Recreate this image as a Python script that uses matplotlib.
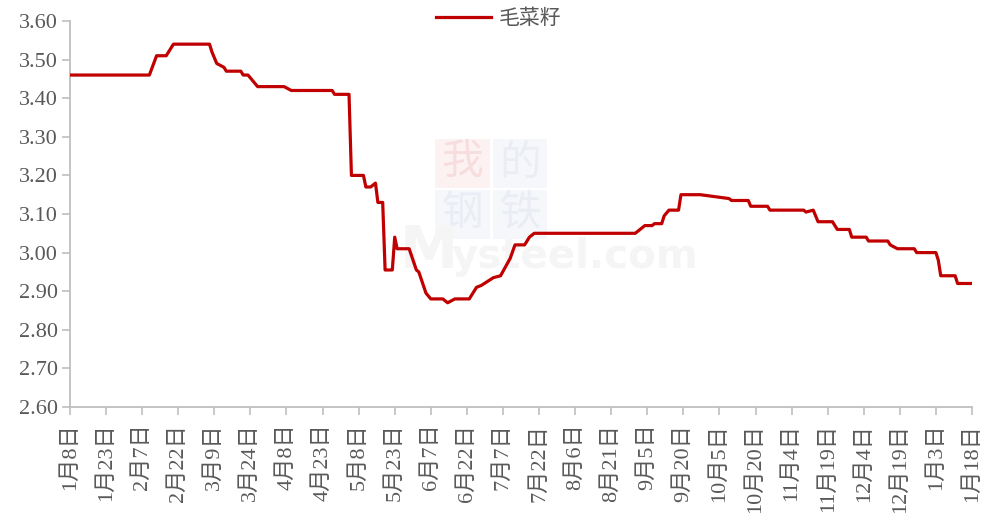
import matplotlib
matplotlib.use("Agg")
import matplotlib.pyplot as plt
import pandas as pd
from matplotlib.patches import Rectangle

# ---- data ----
dates = ["2023-01-08", "2023-02-10", "2023-02-13", "2023-02-17", "2023-02-20", "2023-03-07",
         "2023-03-08", "2023-03-10", "2023-03-13", "2023-03-14", "2023-03-20", "2023-03-21",
         "2023-03-23", "2023-03-27", "2023-04-07", "2023-04-10", "2023-04-27", "2023-04-28",
         "2023-05-04", "2023-05-05", "2023-05-10", "2023-05-11", "2023-05-13", "2023-05-15",
         "2023-05-16", "2023-05-18", "2023-05-19", "2023-05-22", "2023-05-23", "2023-05-24",
         "2023-05-29", "2023-06-01", "2023-06-02", "2023-06-05", "2023-06-07", "2023-06-12",
         "2023-06-14", "2023-06-17", "2023-06-23", "2023-06-26", "2023-06-28", "2023-07-03",
         "2023-07-06", "2023-07-10", "2023-07-12", "2023-07-16", "2023-07-18", "2023-07-20",
         "2023-08-31", "2023-09-04", "2023-09-07", "2023-09-08", "2023-09-11", "2023-09-12",
         "2023-09-14", "2023-09-18", "2023-09-19", "2023-09-27", "2023-10-09", "2023-10-10",
         "2023-10-17", "2023-10-18", "2023-10-25", "2023-10-26", "2023-11-09", "2023-11-10",
         "2023-11-13", "2023-11-15", "2023-11-21", "2023-11-23", "2023-11-28", "2023-11-29",
         "2023-12-05", "2023-12-06", "2023-12-14", "2023-12-15", "2023-12-18", "2023-12-25",
         "2023-12-26", "2024-01-03", "2024-01-04", "2024-01-05", "2024-01-11", "2024-01-12",
         "2024-01-18"]
values = [3.46, 3.46, 3.51, 3.51, 3.54, 3.54,
          3.52, 3.49, 3.48, 3.47, 3.47, 3.46,
          3.46, 3.43, 3.43, 3.42, 3.42, 3.41,
          3.41, 3.20, 3.20, 3.17, 3.17, 3.18,
          3.13, 3.13, 2.955, 2.955, 3.04, 3.01,
          3.01, 2.955, 2.95, 2.895, 2.88, 2.88,
          2.87, 2.88, 2.88, 2.91, 2.915, 2.935,
          2.94, 2.985, 3.02, 3.02, 3.04, 3.05,
          3.05, 3.07, 3.07, 3.075, 3.075, 3.095,
          3.11, 3.11, 3.15, 3.15, 3.14, 3.135,
          3.135, 3.12, 3.12, 3.11, 3.11, 3.105,
          3.11, 3.08, 3.08, 3.06, 3.06, 3.04,
          3.04, 3.03, 3.03, 3.02, 3.01, 3.01,
          3.00, 3.00, 2.98, 2.94, 2.94, 2.92,
          2.92]
series_name = "毛菜籽"
x_start, x_end = "2023-01-08", "2024-01-18"
tick_step_days = 15
y_ticks = [2.60, 2.70, 2.80, 2.90, 3.00, 3.10, 3.20, 3.30, 3.40, 3.50, 3.60]

# ---- style ----
FONT = ["Liberation Serif", "Noto Sans CJK SC", "DejaVu Sans"]
plt.rcParams["font.family"] = FONT
TXT = "#595959"
AXC = "#bfbfbf"

W, H = 998, 513
fig = plt.figure(figsize=(W / 100, H / 100), dpi=100)
ax = fig.add_axes([70 / W, 1 - 407 / H, (972 - 70) / W, (407 - 21) / H])
ax.set_zorder(2)
ax.patch.set_visible(False)

# faint watermark (behind the chart)
def box(x0, y0, x1, y1, fc):
    fig.patches.append(Rectangle((x0 / W, 1 - y1 / H), (x1 - x0) / W, (y1 - y0) / H,
                                 transform=fig.transFigure, facecolor=fc, edgecolor="none", zorder=0))
box(435, 139, 490, 188, "#fdf2f2")
box(493, 139, 547, 188, "#f5f7fb")
box(435, 190, 490, 239, "#f5f7fb")
box(493, 190, 547, 239, "#f5f7fb")
for ch, cx, cy, col in [("我", 462, 163, "#f7dddd"), ("的", 520, 163, "#eaedf4"),
                        ("钢", 462, 213, "#eaedf4"), ("铁", 520, 213, "#eaedf4")]:
    fig.text(cx / W, 1 - cy / H, ch, fontsize=30, color=col, ha="center", va="center",
             family=["Noto Sans CJK SC"], zorder=0.5)
fig.text(400 / W, 1 - 268 / H, "M", fontsize=42, color="#f5f5f5", ha="left", va="baseline",
         family=["DejaVu Sans"], fontweight="bold", zorder=0.5)
fig.text(452 / W, 1 - 268 / H, "ysteel.com", fontsize=29, color="#f5f5f5", ha="left", va="baseline",
         family=["DejaVu Sans"], fontweight="bold", zorder=0.5)

x = pd.to_datetime(dates)
ax.plot(x, values, color="#c00000", linewidth=2.3, label=series_name, zorder=3)

ax.set_xlim(pd.Timestamp(x_start), pd.Timestamp(x_end))
ax.set_ylim(y_ticks[0], y_ticks[-1])
ticks = pd.date_range(x_start, x_end, freq=f"{tick_step_days}D")
ax.set_xticks(ticks)
ax.set_xticklabels([f"{t.month}月{t.day}日" for t in ticks], rotation=90, va="top", ha="center")
ax.set_yticks(y_ticks)
ax.set_yticklabels([f"{v:.2f}" for v in y_ticks])

for s in ["top", "right"]:
    ax.spines[s].set_visible(False)
for s in ["left", "bottom"]:
    ax.spines[s].set_color(AXC)
    ax.spines[s].set_linewidth(1.3)
ax.tick_params(axis="both", colors=AXC, labelcolor=TXT, labelsize=16, length=6, width=1.2)
ax.tick_params(axis="x", pad=6)
ax.tick_params(axis="y", pad=3)

leg = fig.legend(loc="center", bbox_to_anchor=(499 / W, 1 - 18 / H), frameon=False,
                 handlelength=2.6, handletextpad=0.4,
                 prop={"family": ["Noto Sans CJK SC"], "size": 15})
for t in leg.get_texts():
    t.set_color(TXT)

fig.savefig("out.png", dpi=100)
